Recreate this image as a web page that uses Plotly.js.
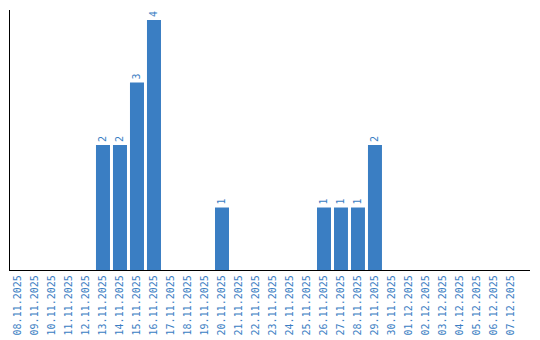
<!DOCTYPE html>
<html><head><meta charset="utf-8">
<script src="https://cdn.plot.ly/plotly-3.0.1.min.js"></script>
<style>html,body{margin:0;padding:0;background:#fff}</style>
</head><body>
<div id="chart" style="width:540px;height:340px"></div>
<script>
const dates = ["08.11.2025","09.11.2025","10.11.2025","11.11.2025","12.11.2025","13.11.2025","14.11.2025","15.11.2025","16.11.2025","17.11.2025","18.11.2025","19.11.2025","20.11.2025","21.11.2025","22.11.2025","23.11.2025","24.11.2025","25.11.2025","26.11.2025","27.11.2025","28.11.2025","29.11.2025","30.11.2025","01.12.2025","02.12.2025","03.12.2025","04.12.2025","05.12.2025","06.12.2025","07.12.2025"];
const counts = [0,0,0,0,0,2,2,3,4,0,0,0,1,0,0,0,0,0,1,1,1,2,0,0,0,0,0,0,0,0];
const labels = counts.map(v => v > 0 ? String(v) : "");
const blue = "#3a7ec3";
Plotly.newPlot("chart", [{
  type: "bar", x: dates, y: counts, text: labels,
  textposition: "outside", textangle: -90, cliponaxis: false,
  textfont: {family: "DejaVu Sans Mono", size: 10, color: blue},
  marker: {color: blue}, hoverinfo: "none"
}], {
  width: 540, height: 340,
  margin: {l: 10, r: 10, t: 10, b: 70},
  bargap: 0.176,
  showlegend: false,
  plot_bgcolor: "#fff", paper_bgcolor: "#fff",
  xaxis: {type: "category", range: [-0.47, 30.12], tickangle: -90, showline: true, linecolor: "#000", linewidth: 1.2,
    showgrid: false, ticks: "", tickfont: {family: "DejaVu Sans Mono", size: 10, color: blue}},
  yaxis: {range: [0, 4.16], showline: true, linecolor: "#000", linewidth: 1.2,
    showgrid: false, zeroline: false, showticklabels: false, ticks: ""}
}, {staticPlot: true, displayModeBar: false});
</script>
</body></html>
